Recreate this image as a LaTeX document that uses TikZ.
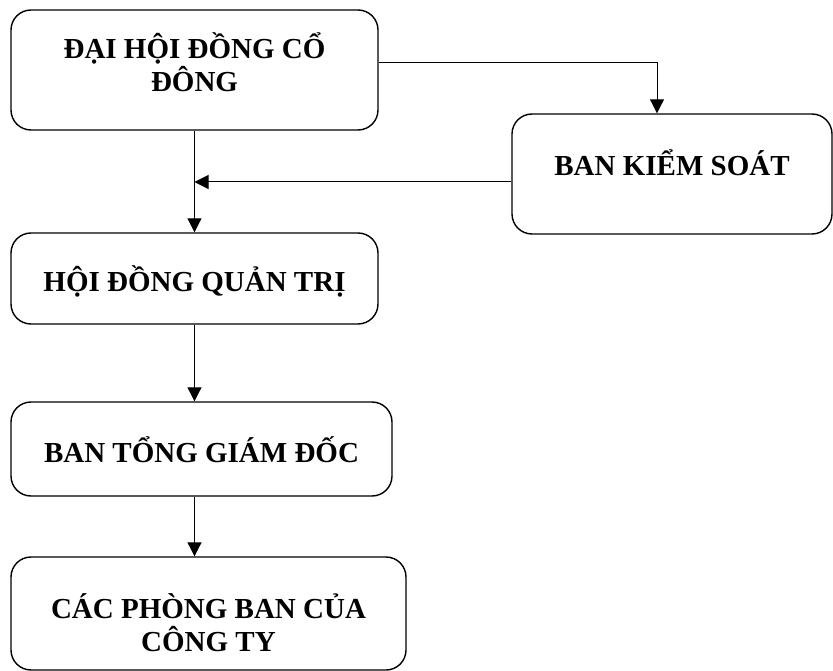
\documentclass[tikz,border=0pt]{standalone}
\usepackage{fontspec}
\setmainfont{Liberation Serif}
\usepackage{tikz}
\usetikzlibrary{arrows.meta, positioning}
\tikzstyle{basefont}=[font=\fontsize{29}{33}\selectfont\bfseries]
\tikzstyle{box}=[draw, line width=1.4pt, rounded corners=20pt, inner sep=0pt]
\tikzstyle{boxlabel}=[basefont, align=center, inner sep=0pt]
\tikzstyle{arrow}=[line width=1pt, -{Triangle[length=14pt, width=14pt]}]

\begin{document}
\begin{tikzpicture}[x=1pt, y=-1pt]
        \useasboundingbox (0,0) rectangle (833,671);

        % Boxes
        \node[box, minimum width=367pt, minimum height=120pt] (dhdcd) at (194.5,70) {};
        \node[box, minimum width=320pt, minimum height=120pt] (bks) at (672,174) {};
        \node[box, minimum width=367pt, minimum height=91pt] (hdqt) at (194.5,278.5) {};
        \node[box, minimum width=381pt, minimum height=94pt] (btgd) at (201.5,449) {};
        \node[box, minimum width=395pt, minimum height=113pt] (cpb) at (208.5,613.5) {};

        % Texts in the boxes
        \node[boxlabel] (dhdcd-label) at ([yshift=8pt]dhdcd.center) {ĐẠI HỘI ĐỒNG CỔ\\ĐÔNG};
        \node[boxlabel] (bks-label) at ([yshift=11pt]bks.center) {BAN KIỂM SOÁT};
        \node[boxlabel] (hdqt-label) at ([yshift=-3pt]hdqt.center) {HỘI ĐỒNG QUẢN TRỊ};
        \node[boxlabel] (btgd-label) at ([yshift=-1pt]btgd.center) {BAN TỔNG GIÁM ĐỐC};
        \node[boxlabel] (cpb-label) at ([yshift=-9pt]cpb.center) {CÁC PHÒNG BAN CỦA\\CÔNG TY};

        % Connectors
        \draw[arrow] ([yshift=7pt]dhdcd.east) -| ([xshift=-15pt]bks.north);
        \draw[arrow] (dhdcd.south) -- (hdqt.north);
        \draw[arrow] ([yshift=-8pt]bks.west) -- ([yshift=-8pt]bks.west -| dhdcd.south);
        \draw[arrow] (hdqt.south) -- (hdqt.south |- btgd.north);
        \draw[arrow] (hdqt.south |- btgd.south) -- (hdqt.south |- cpb.north);
\end{tikzpicture}
\end{document}
